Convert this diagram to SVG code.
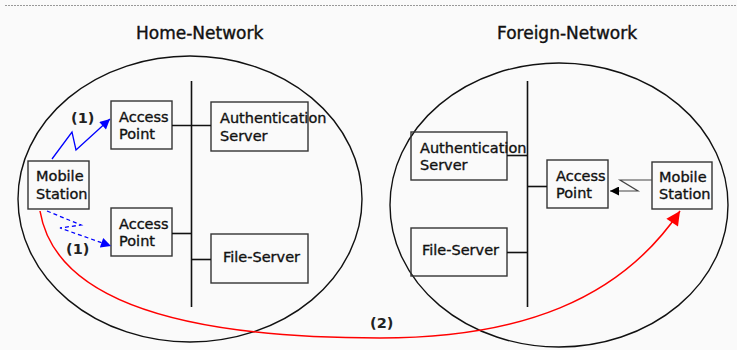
<svg xmlns="http://www.w3.org/2000/svg" width="737" height="350" viewBox="0 0 737 350">
<style>
.bg{fill:#fafafa}
.box{fill:none;stroke:#333;stroke-width:1.4}
.net{fill:none;stroke:#111;stroke-width:1.4}
.bus{stroke:#111;stroke-width:1.6;fill:none}
.t{font-family:"DejaVu Sans","Liberation Sans",sans-serif;font-size:14.5px;fill:#111;stroke:#111;stroke-width:0.35}
.title{font-family:"DejaVu Sans","Liberation Sans",sans-serif;font-size:17px;fill:#111;stroke:#111;stroke-width:0.4}
.lbl{font-family:"DejaVu Sans","Liberation Sans",sans-serif;font-size:14.5px;font-weight:bold;fill:#222}
</style>
<defs>
<marker id="ab" viewBox="0 0 10 10" refX="10" refY="5" markerWidth="11" markerHeight="10" markerUnits="userSpaceOnUse" orient="auto"><path d="M0,0 L10,5 L0,10 Z" fill="#0000ff"/></marker>
<marker id="ar" viewBox="0 0 10 10" refX="10" refY="5" markerWidth="17" markerHeight="14" markerUnits="userSpaceOnUse" orient="auto"><path d="M0,0 L10,5 L0,10 Z" fill="#ff0000"/></marker>
<marker id="ak" viewBox="0 0 10 10" refX="10" refY="5" markerWidth="10" markerHeight="9" markerUnits="userSpaceOnUse" orient="auto"><path d="M0,0 L10,5 L0,10 Z" fill="#000"/></marker>
</defs>
<rect class="bg" x="0" y="0" width="737" height="350"/>
<line x1="5" y1="5.5" x2="737" y2="5.5" stroke="#999" stroke-width="1" stroke-dasharray="2,1"/>

<g id="home-network">
<ellipse class="net" cx="190" cy="199" rx="172" ry="143"/>
<text class="title" x="136" y="39">Home-Network</text>
</g>
<g id="foreign-network">
<ellipse class="net" cx="559" cy="205" rx="169" ry="142"/>
<text class="title" x="497" y="39">Foreign-Network</text>
</g>

<g id="home-bus"><line class="bus" x1="191.5" y1="81" x2="191.5" y2="307"/></g>
<g id="foreign-bus"><line class="bus" x1="527.5" y1="81" x2="527.5" y2="307"/></g>

<g id="home-ap1"><rect class="box" x="111" y="101" width="61" height="48"/><text class="t" x="119" y="122">Access</text><text class="t" x="119" y="139">Point</text></g>
<g id="home-ap2"><rect class="box" x="111" y="208" width="61" height="48"/><text class="t" x="119" y="229">Access</text><text class="t" x="119" y="246">Point</text></g>
<g id="home-ms"><rect class="box" x="28" y="161" width="61" height="48"/><text class="t" x="36" y="181">Mobile</text><text class="t" x="36" y="199">Station</text></g>
<g id="home-auth"><rect class="box" x="211" y="102" width="97" height="49"/><text class="t" x="220" y="123">Authentication</text><text class="t" x="220" y="141">Server</text></g>
<g id="home-file"><rect class="box" x="211" y="234" width="97" height="49"/><text class="t" x="223" y="262">File-Server</text></g>

<g id="foreign-auth"><rect class="box" x="411" y="132" width="96" height="48"/><text class="t" x="420" y="153">Authentication</text><text class="t" x="420" y="170">Server</text></g>
<g id="foreign-file"><rect class="box" x="411" y="228" width="96" height="48"/><text class="t" x="422" y="255">File-Server</text></g>
<g id="foreign-ap"><rect class="box" x="547" y="160" width="61" height="48"/><text class="t" x="556" y="181">Access</text><text class="t" x="556" y="198">Point</text></g>
<g id="foreign-ms"><rect class="box" x="652" y="162" width="60" height="47"/><text class="t" x="659" y="182">Mobile</text><text class="t" x="659" y="199">Station</text></g>

<g id="connectors">
<line class="bus" x1="172" y1="125.5" x2="211" y2="125.5" stroke-width="1.4"/>
<line class="bus" x1="172" y1="233.5" x2="191" y2="233.5" stroke-width="1.4"/>
<line class="bus" x1="191" y1="259.5" x2="211" y2="259.5" stroke-width="1.4"/>
<line class="bus" x1="507" y1="155.5" x2="527" y2="155.5" stroke-width="1.4"/>
<line class="bus" x1="507" y1="252.5" x2="527" y2="252.5" stroke-width="1.4"/>
<line class="bus" x1="527" y1="186.5" x2="547" y2="186.5" stroke-width="1.4"/>
<polyline points="52,159 72,132 76,150 110,119" fill="none" stroke="#0000ff" stroke-width="1.3" marker-end="url(#ab)"/>
<polyline points="47,211 81,225 60,228 111,246" fill="none" stroke="#0000ff" stroke-width="1.3" stroke-dasharray="4,3" marker-end="url(#ab)"/>
<polyline points="652,180 620,180 638,191 610,191" fill="none" stroke="#444" stroke-width="1.2" marker-end="url(#ak)"/>
<path d="M40,211 C55,300 180,338 380,338 C520,338 620,300 680,211" fill="none" stroke="#ff0000" stroke-width="1.5" marker-end="url(#ar)"/>
<text class="lbl" x="71" y="123">(1)</text>
<text class="lbl" x="66" y="254">(1)</text>
<text class="lbl" x="370" y="328">(2)</text>
</g>
</svg>
